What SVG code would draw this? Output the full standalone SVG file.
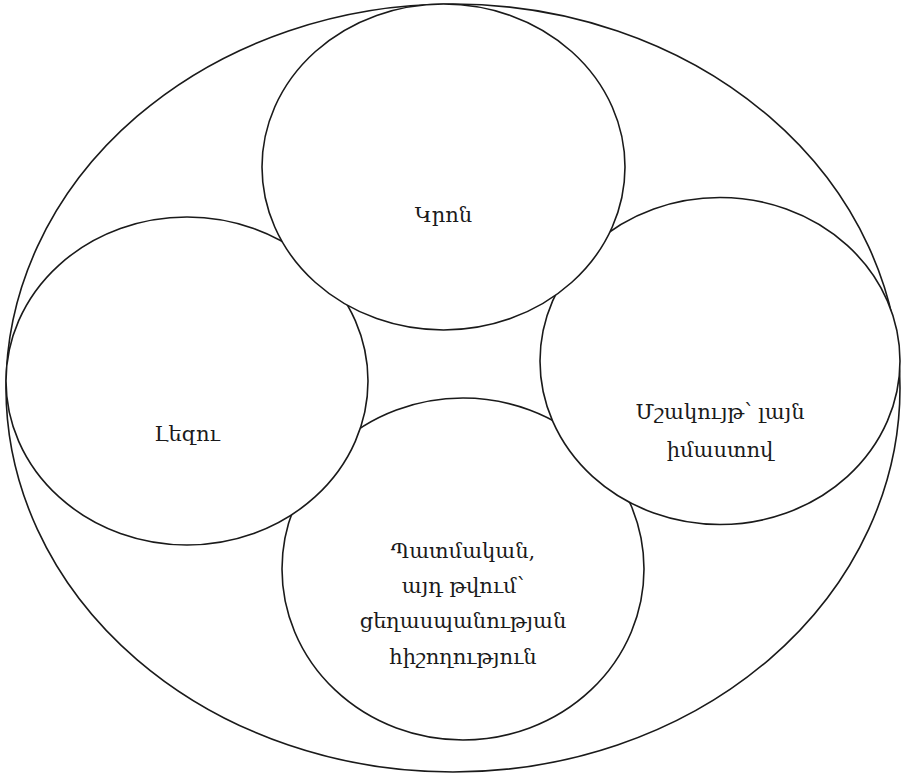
<svg xmlns="http://www.w3.org/2000/svg" width="901" height="773" viewBox="0 0 901 773">
<style>
.c{fill:#fff;stroke:#1a1a1a;stroke-width:1.6}
.t{font-family:"DejaVu Serif","Noto Sans",serif;font-size:21px;fill:#1a1a1a;text-anchor:middle}
</style>
<rect width="901" height="773" fill="#fff"/>
<g id="outer"><ellipse class="c" cx="453" cy="388" rx="447" ry="384"/></g>
<g id="history">
<ellipse class="c" cx="463" cy="569" rx="181" ry="171"/>
<text class="t" x="463" y="558">Պատմական,</text>
<text class="t" x="463" y="593">այդ թվում՝</text>
<text class="t" x="463" y="628">ցեղասպանության</text>
<text class="t" x="463" y="664">հիշողություն</text>
</g>
<g id="language">
<ellipse class="c" cx="187" cy="381" rx="181" ry="164"/>
<text class="t" x="187" y="441">Լեզու</text>
</g>
<g id="culture">
<ellipse class="c" cx="720" cy="361" rx="180" ry="163.5"/>
<text class="t" x="720" y="419">Մշակույթ՝ լայն</text>
<text class="t" x="720" y="457">իմաստով</text>
</g>
<g id="religion">
<ellipse class="c" cx="443.5" cy="167" rx="181.5" ry="163"/>
<text class="t" x="443.5" y="222">Կրոն</text>
</g>
<g id="connectors"/>
</svg>
